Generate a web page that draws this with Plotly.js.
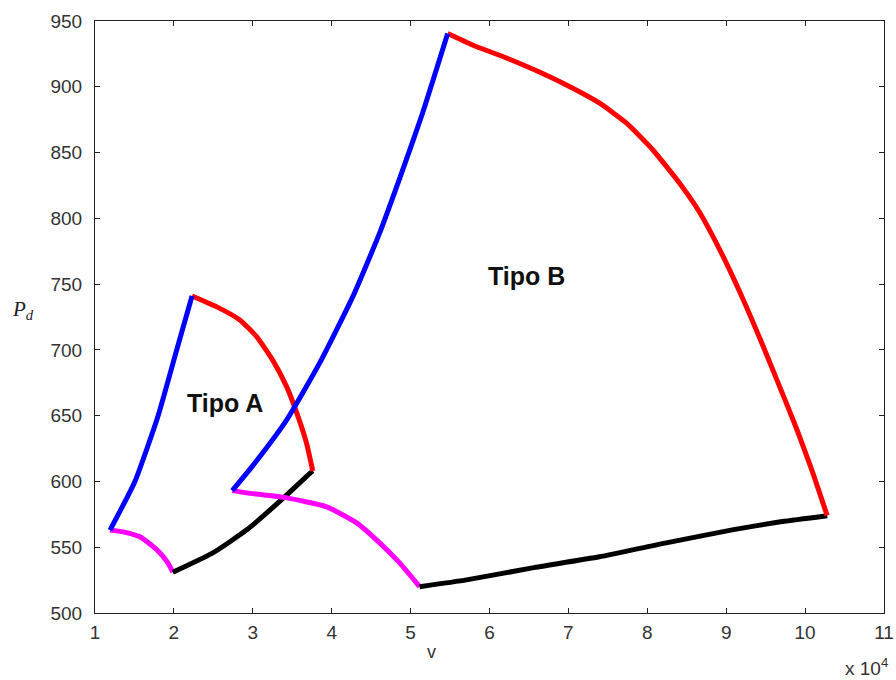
<!DOCTYPE html>
<html>
<head>
<meta charset="utf-8">
<script src="https://cdn.plot.ly/plotly-3.0.1.min.js"></script>
<style>html,body{margin:0;padding:0;background:#fff;}#chart{width:896px;height:680px;}</style>
</head>
<body>
<div id="chart"></div>
<script>
// Tipo A boundaries
const blueA_x = [1.19, 1.506, 1.80, 2.04, 2.23];
const blueA_y = [563, 600, 650, 701, 741];
const redA_x = [2.23, 2.544, 2.835, 3.05, 3.25, 3.43, 3.557, 3.68, 3.76];
const redA_y = [741, 732.7, 722.8, 709.9, 692.4, 671.9, 652.1, 629.3, 608];
const blackA_x = [1.987, 2.494, 2.924, 3.177, 3.43, 3.72, 3.76];
const blackA_y = [531, 545.7, 563.2, 576.1, 589.8, 606, 608];
const magentaA_x = [1.19, 1.354, 1.57, 1.785, 1.924, 1.987];
const magentaA_y = [563, 561.7, 557.9, 548.0, 538.1, 531];
// Tipo B boundaries
const blueB_x = [2.74, 3.0, 3.43, 3.848, 4.266, 4.608, 4.9, 5.152, 5.47];
const blueB_y = [593, 612, 646.8, 690.1, 740.3, 788.9, 836.8, 880.1, 940.5];
const redB_x = [5.47, 5.785, 6.215, 6.633, 7.05, 7.392, 7.734, 8.063, 8.405, 8.658, 8.911, 9.165, 9.418, 9.671, 9.886, 10.089, 10.28];
const redB_y = [940.5, 931.8, 921.9, 911.2, 899.1, 887.7, 872.5, 852.5, 827, 805, 777, 745, 710, 673, 641, 608, 574];
const blackB_x = [5.114, 5.709, 6.544, 7.392, 8.24, 9.076, 9.709, 10.28];
const blackB_y = [520, 525.2, 534.3, 542.7, 553.3, 563.2, 569.5, 574];
const magentaB_x = [2.74, 2.924, 3.43, 3.937, 4.316, 4.608, 4.861, 5.114];
const magentaB_y = [593, 591.3, 587.5, 580.7, 568.5, 553.3, 538.1, 520];

const xTicks = [1,2,3,4,5,6,7,8,9,10,11];
const yTicks = [500,550,600,650,700,750,800,850,900,950];
const labelA = {x: 2.646, y: 660, text: 'Tipo A'};
const labelB = {x: 6.468, y: 756.5, text: 'Tipo B'};

function tr(x, y, color) {
  return {x: x, y: y, mode: 'lines', type: 'scatter', line: {color: color, width: 5, shape: 'spline', smoothing: 0.5}, hoverinfo: 'none', showlegend: false};
}
const data = [
  tr(magentaA_x, magentaA_y, '#ff00ff'),
  tr(blackA_x, blackA_y, '#000000'),
  tr(redA_x, redA_y, '#ff0000'),
  tr(blueA_x, blueA_y, '#0000ff'),
  tr(magentaB_x, magentaB_y, '#ff00ff'),
  tr(blackB_x, blackB_y, '#000000'),
  tr(redB_x, redB_y, '#ff0000'),
  tr(blueB_x, blueB_y, '#0000ff')
];

const tickFont = {family: 'Liberation Sans, Arial, sans-serif', size: 19, color: '#333'};
const axisCommon = {
  showgrid: false, zeroline: false, showline: true, linecolor: '#222', linewidth: 1,
  mirror: 'ticks', ticks: 'inside', ticklen: 5, tickcolor: '#222',
  tickfont: tickFont
};

const layout = {
  width: 896, height: 680,
  margin: {l: 95, r: 12, t: 21, b: 67},
  paper_bgcolor: '#fff', plot_bgcolor: '#fff',
  xaxis: Object.assign({}, axisCommon, {range: [1, 11], tickvals: xTicks, ticktext: xTicks.map(String), ticklabelstandoff: 2}),
  yaxis: Object.assign({}, axisCommon, {range: [500, 950], tickvals: yTicks, ticktext: yTicks.map(String), ticklabelstandoff: 8}),
  annotations: [
    {x: labelA.x, y: labelA.y, text: '<b>' + labelA.text + '</b>', showarrow: false, xanchor: 'center', yanchor: 'middle', font: {family: 'Liberation Sans, Arial, sans-serif', size: 25, color: '#111'}},
    {x: labelB.x, y: labelB.y, text: '<b>' + labelB.text + '</b>', showarrow: false, xanchor: 'center', yanchor: 'middle', font: {family: 'Liberation Sans, Arial, sans-serif', size: 25, color: '#111'}},
    {xref: 'paper', yref: 'paper', x: 0.427, y: -0.066, xanchor: 'center', yanchor: 'middle', text: 'v', showarrow: false, font: {family: 'Liberation Sans, Arial, sans-serif', size: 18, color: '#333'}},
    {xref: 'paper', yref: 'paper', x: -0.091, y: 0.512, xanchor: 'center', yanchor: 'middle', text: '<i>P</i><sub><i>d</i></sub>', showarrow: false, font: {family: 'Liberation Serif, serif', size: 21, color: '#222'}},
    {xref: 'paper', yref: 'paper', x: 1.008, y: -0.092, xanchor: 'right', yanchor: 'middle', text: 'x 10<sup>4</sup>', showarrow: false, font: {family: 'Liberation Sans, Arial, sans-serif', size: 19, color: '#333'}}
  ]
};

Plotly.newPlot('chart', data, layout, {staticPlot: true, displayModeBar: false});
</script>
</body>
</html>
